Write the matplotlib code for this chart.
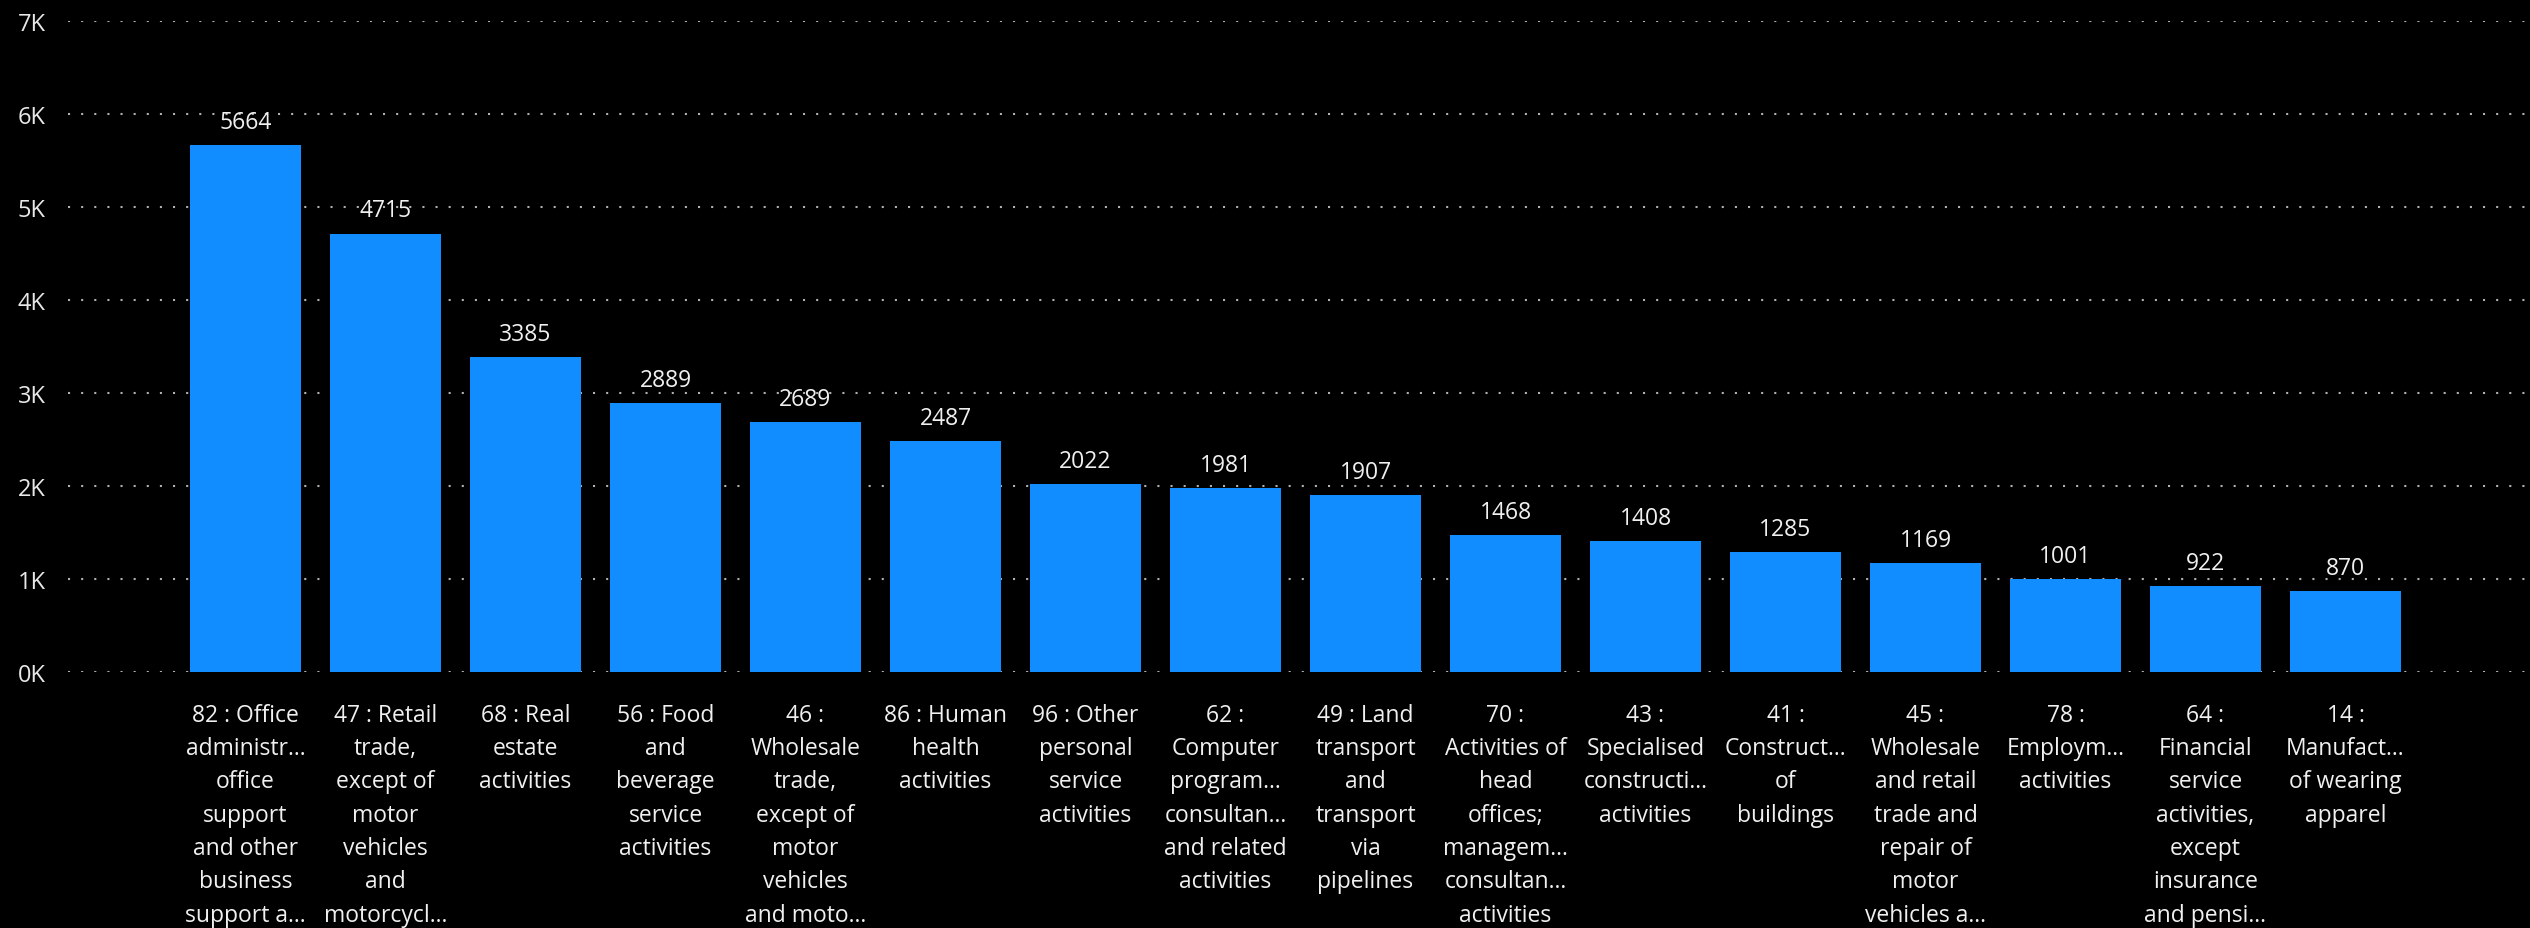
import matplotlib
matplotlib.use('Agg')
import matplotlib.pyplot as plt

plt.rcParams['font.family'] = ['Open Sans', 'DejaVu Sans']

# industry labels (already wrapped / truncated as in the report)
labels = [
    "82 : Office\nadministr...\noffice\nsupport\nand other\nbusiness\nsupport a...",
    "47 : Retail\ntrade,\nexcept of\nmotor\nvehicles\nand\nmotorcycl...",
    "68 : Real\nestate\nactivities",
    "56 : Food\nand\nbeverage\nservice\nactivities",
    "46 :\nWholesale\ntrade,\nexcept of\nmotor\nvehicles\nand moto...",
    "86 : Human\nhealth\nactivities",
    "96 : Other\npersonal\nservice\nactivities",
    "62 :\nComputer\nprogram...\nconsultan...\nand related\nactivities",
    "49 : Land\ntransport\nand\ntransport\nvia\npipelines",
    "70 :\nActivities of\nhead\noffices;\nmanagem...\nconsultan...\nactivities",
    "43 :\nSpecialised\nconstructi...\nactivities",
    "41 :\nConstruct...\nof\nbuildings",
    "45 :\nWholesale\nand retail\ntrade and\nrepair of\nmotor\nvehicles a...",
    "78 :\nEmploym...\nactivities",
    "64 :\nFinancial\nservice\nactivities,\nexcept\ninsurance\nand pensi...",
    "14 :\nManufact...\nof wearing\napparel",
]
counts = [5664, 4715, 3385, 2889, 2689, 2487, 2022, 1981, 1907, 1468, 1408, 1285, 1169, 1001, 922, 870]
y_ticks = [0, 1000, 2000, 3000, 4000, 5000, 6000, 7000]
y_tick_labels = ["0K", "1K", "2K", "3K", "4K", "5K", "6K", "7K"]

W, H = 2530, 929
fig = plt.figure(figsize=(W / 100, H / 100), dpi=100, facecolor='black')
ax = fig.add_axes([68 / W, (H - 673) / H, (W - 68) / W, (673 - 22) / H])
ax.set_facecolor('black')

x = list(range(len(counts)))
bars = ax.bar(x, counts, width=111 / 140, color='#118DFF', zorder=2)

for b, v in zip(bars, counts):
    ax.annotate(str(v), (b.get_x() + b.get_width() / 2, v), xytext=(0, 8),
                textcoords='offset points', ha='center', va='bottom',
                color='#f0f0f0', fontsize=16.5)

ax.set_ylim(0, 7000)
ax.set_xlim((68 - 245.5) / 140, (W - 245.5) / 140)
ax.set_yticks(y_ticks)
ax.set_yticklabels(y_tick_labels)
ax.set_xticks(x)
ax.set_xticklabels(labels, linespacing=1.52)

ax.tick_params(axis='y', length=0, pad=16, labelcolor='#e8e8e8', labelsize=17)
ax.tick_params(axis='x', length=0, pad=22, labelcolor='#f0f0f0', labelsize=16.5)
for lbl in ax.get_xticklabels():
    lbl.set_verticalalignment('top')

ax.grid(axis='y', color='#b0b0b0', linewidth=1.5, linestyle=(0, (1, 5.3)), zorder=1)
ax.grid(axis='x', visible=False)
for s in ax.spines.values():
    s.set_visible(False)

fig.savefig('out.png', dpi=100, facecolor='black')
